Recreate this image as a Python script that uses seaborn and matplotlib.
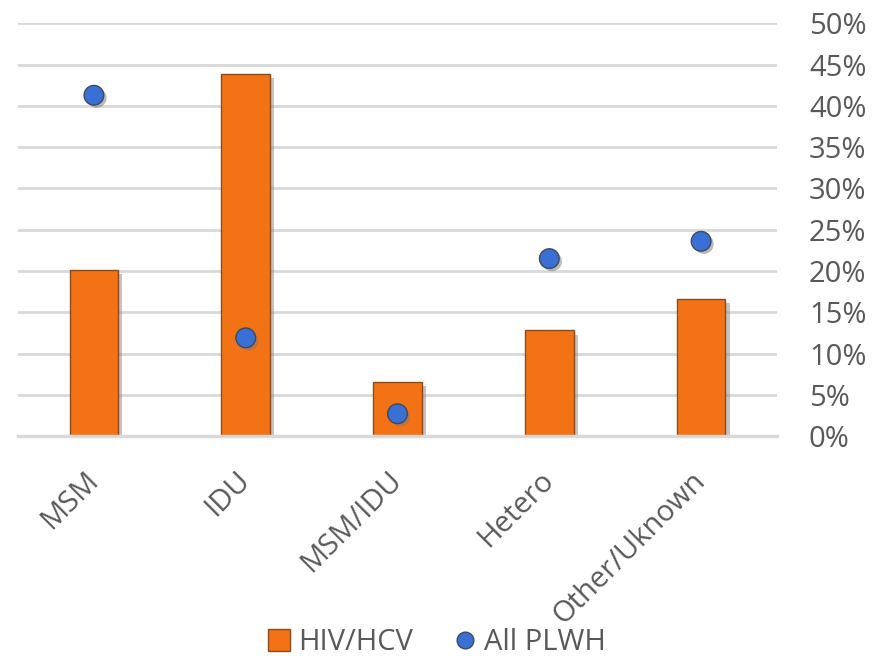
import matplotlib
matplotlib.use("Agg")
import matplotlib.pyplot as plt
import matplotlib.patheffects as pe
from matplotlib.lines import Line2D
import seaborn as sns
import pandas as pd

categories = ["MSM", "IDU", "MSM/IDU", "Hetero", "Other/Uknown"]
hiv_hcv = [0.201, 0.439, 0.066, 0.128, 0.166]
all_plwh = [0.413, 0.119, 0.027, 0.215, 0.236]
y_ticks = [0, 0.05, 0.10, 0.15, 0.20, 0.25, 0.30, 0.35, 0.40, 0.45, 0.50]
y_tick_labels = ["0%", "5%", "10%", "15%", "20%", "25%", "30%", "35%", "40%", "45%", "50%"]

df = pd.DataFrame({"cat": categories, "HIV/HCV": hiv_hcv, "All PLWH": all_plwh})

sns.set_style("white")
plt.rcParams["font.family"] = ["Open Sans", "DejaVu Sans"]
txt = "#595959"
fs = 21

fig = plt.figure(figsize=(8.88, 6.67), dpi=100)
ax = fig.add_axes([0.0203, 0.3463, 0.8547, 0.6185])

shadow = [pe.SimplePatchShadow(offset=(3, -3), shadow_rgbFace="#888888", alpha=0.5), pe.Normal()]

sns.barplot(data=df, x="cat", y="HIV/HCV", ax=ax, color="#f47216", width=0.32,
            edgecolor="#8a4a1e", linewidth=1.0, saturation=1, zorder=2)
for p in ax.patches:
    p.set_path_effects(shadow)

sns.scatterplot(data=df, x="cat", y="All PLWH", ax=ax, color="#3a6fd6", s=200,
                edgecolor="#3c4a5c", linewidth=1.0, zorder=3, legend=False)
for c in ax.collections:
    c.set_path_effects([pe.SimplePatchShadow(offset=(2, -2), shadow_rgbFace="#777777", alpha=0.5), pe.Normal()])

ax.set_xlim(-0.5, len(categories) - 0.5)
ax.set_ylim(0, 0.5)
ax.set_yticks(y_ticks)
ax.set_yticklabels(y_tick_labels)
ax.yaxis.tick_right()
ax.tick_params(axis="y", length=0, pad=23, labelsize=fs, labelcolor=txt)
ax.tick_params(axis="x", length=0, pad=29, labelsize=fs, labelcolor=txt)
for lab in ax.get_xticklabels():
    lab.set_rotation(45)
    lab.set_ha("right")
    lab.set_va("center")
    lab.set_rotation_mode("anchor")
ax.set_xlabel("")
ax.set_ylabel("")
ax.grid(axis="y", color="#d9d9d9", linewidth=2, zorder=0)
ax.set_axisbelow(True)
for s in ["top", "right", "left"]:
    ax.spines[s].set_visible(False)
ax.spines["bottom"].set_color("#d9d9d9")
ax.spines["bottom"].set_linewidth(2.5)

handles = [Line2D([0], [0], marker="s", linestyle="", markersize=16, markerfacecolor="#f47216",
                  markeredgecolor="#8a4a1e", label="HIV/HCV"),
           Line2D([0], [0], marker="o", linestyle="", markersize=12, markerfacecolor="#3a6fd6",
                  markeredgecolor="#3c4a5c", label="All PLWH")]
leg = fig.legend(handles=handles, loc="lower center", bbox_to_anchor=(0.49, -0.025), ncol=2,
                 frameon=False, fontsize=fs, handletextpad=0.15, columnspacing=1.3, handlelength=1.0)
for t in leg.get_texts():
    t.set_color(txt)

fig.savefig("out.png", dpi=100)
